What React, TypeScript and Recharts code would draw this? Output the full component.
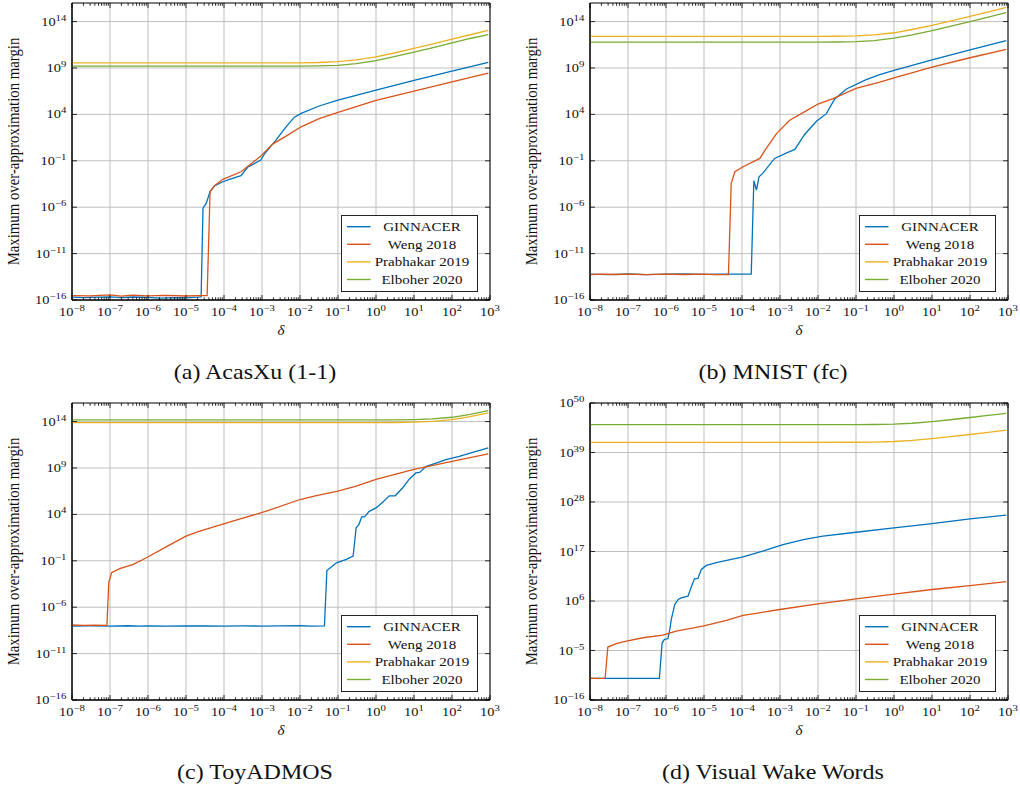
import React from 'react';
import { LineChart, Line, XAxis, YAxis, CartesianGrid, ReferenceArea, Legend } from 'recharts';

const FONT = '"Liberation Serif", "Times New Roman", serif';
const TEXT = '#111';
const PLOT_W = 418;
const PLOT_H = 297;
const TOP_PAD = 12;

// ---------- axes ----------
const xMajorTicks = [1e-8, 1e-7, 1e-6, 1e-5, 1e-4, 1e-3, 1e-2, 1e-1, 1, 10, 100, 1000];
const xTickLabels = ['−8', '−7', '−6', '−5', '−4', '−3', '−2', '−1', '0', '1', '2', '3'];
const xMinorTicks: number[] = [];
for (let e = -8; e < 3; e++) for (let m = 2; m <= 9; m++) xMinorTicks.push(parseFloat(`${m}e${e}`));
const xAllTicks = [...xMajorTicks, ...xMinorTicks].sort((a, b) => a - b);

const yTicksStd = [1e-16, 1e-11, 1e-6, 1e-1, 1e4, 1e9, 1e14];
const yLabelsStd = ['−16', '−11', '−6', '−1', '4', '9', '14'];
const yTicksVww = [1e-16, 1e-5, 1e6, 1e17, 1e28, 1e39, 1e50];
const yLabelsVww = ['−16', '−5', '6', '17', '28', '39', '50'];

// ---------- series ----------
const seriesNames = ['GINNACER', 'Weng 2018', 'Prabhakar 2019', 'Elboher 2020'];
const seriesColors = ['#0072BD', '#D95319', '#EDB120', '#77AC30'];

// (a) AcasXu (1-1)
const acasDeltaG = [1e-8, 2e-8, 5e-8, 1e-7, 2e-7, 4e-7, 1e-6, 2e-6, 5e-6, 1e-5, 2e-5, 2.5e-5, 2.8e-5, 3.4e-5, 4.3e-5, 5.6e-5, 9.3e-5, 1.4e-4, 2.8e-4, 4.2e-4, 9.3e-4, 1.15e-3, 2.3e-3, 4.3e-3, 7e-3, 1.07e-2, 3.2e-2, 1e-1, 1, 10, 100, 900];
const acasMarginG = [2e-16, 1.8e-16, 2e-16, 2.2e-16, 1.8e-16, 2.1e-16, 1.9e-16, 1.6e-16, 1.8e-16, 1.7e-16, 2e-16, 2.2e-16, 8e-7, 2.5e-6, 4.7e-5, 1.9e-4, 5.5e-4, 1e-3, 2.5e-3, 2e-2, 1.2e-1, 5.2e-1, 16, 460, 4.7e3, 1.26e4, 8e4, 3.5e5, 4e6, 4.5e7, 4.5e8, 4e9];
const acasDeltaW = [1e-8, 3e-8, 1e-7, 2e-7, 4e-7, 1e-6, 3e-6, 1e-5, 2e-5, 3.6e-5, 4.3e-5, 5.6e-5, 9.3e-5, 2.8e-4, 4.7e-4, 9.3e-4, 1.9e-3, 4.3e-3, 1.07e-2, 3.2e-2, 1e-1, 1, 10, 100, 900];
const acasMarginW = [3e-16, 2.8e-16, 3.5e-16, 2.6e-16, 3.4e-16, 2.8e-16, 3.2e-16, 2.7e-16, 3e-16, 3e-16, 4.7e-5, 2e-4, 1e-3, 6.6e-3, 3.5e-2, 3.2e-1, 6.3, 45, 460, 3.5e3, 1.6e4, 3.2e5, 3.2e6, 3.2e7, 2.8e8];
const acasDeltaPE = [1e-8, 1e-2, 3e-2, 1e-1, 3e-1, 1, 3, 10, 30, 100, 300, 900];
const acasMarginP = [3.6e9, 3.6e9, 3.9e9, 4.9e9, 7.4e9, 1.6e10, 4.1e10, 1.3e11, 3.8e11, 1.26e12, 3.8e12, 1.1e13];
const acasMarginE = [1.6e9, 1.6e9, 1.7e9, 1.9e9, 3e9, 6.3e9, 1.7e10, 5e10, 1.5e11, 5e11, 1.5e12, 4e12];

// (b) MNIST (fc)
const mnistDeltaG = [1e-8, 3e-8, 1e-7, 3e-7, 1e-6, 3e-6, 1e-5, 3e-5, 1e-4, 1.75e-4, 2.05e-4, 2.4e-4, 2.8e-4, 3.5e-4, 7.2e-4, 1.5e-3, 2.45e-3, 4.5e-3, 9.1e-3, 1.66e-2, 2.75e-2, 5.6e-2, 1.86e-1, 4.2e-1, 1, 10, 100, 900];
const mnistMarginG = [6e-14, 5.5e-14, 6.3e-14, 5.5e-14, 6e-14, 6.3e-14, 5.8e-14, 6e-14, 6e-14, 6e-14, 7e-4, 7e-5, 1.9e-3, 4.4e-3, 1.8e-1, 7.2e-1, 1.66, 72, 1.8e3, 1.2e4, 4.6e5, 5.5e6, 5.5e7, 1.9e8, 5.4e8, 7.6e9, 9e10, 9e11];
const mnistDeltaW = [1e-8, 2e-8, 5e-8, 1e-7, 3e-7, 1e-6, 3e-6, 1e-5, 2e-5, 4.4e-5, 5.2e-5, 6.5e-5, 1.07e-4, 2.95e-4, 4e-4, 8.1e-4, 1.8e-3, 5e-3, 1e-2, 2.5e-2, 1e-1, 4.2e-1, 1, 10, 100, 900];
const mnistMarginW = [5.5e-14, 6e-14, 5.6e-14, 6e-14, 5.3e-14, 6e-14, 5.6e-14, 6e-14, 5.5e-14, 5.6e-14, 3.7e-4, 6.6e-3, 2.3e-2, 1.8e-1, 1.35, 85, 2.3e3, 2.5e4, 1.3e5, 5e5, 6.3e6, 3e7, 8.7e7, 1.26e9, 1.26e10, 1e11];
const mnistDeltaPE = [1e-8, 1e-2, 3e-2, 1e-1, 3e-1, 1, 3, 10, 30, 100, 300, 900];
const mnistMarginP = [2.5e12, 2.5e12, 2.6e12, 2.9e12, 3.6e12, 6.2e12, 1.4e13, 3.9e13, 1.1e14, 3.7e14, 1.1e15, 3.4e15];
const mnistMarginE = [6e11, 6e11, 6.3e11, 7e11, 9e11, 1.6e12, 3.6e12, 1.06e13, 3.1e13, 1e14, 3e14, 9e14];

// (c) ToyADMOS
const toyDeltaG = [1e-8, 3e-8, 1e-7, 3e-7, 6e-7, 1e-6, 3e-6, 1e-5, 3e-5, 1e-4, 3e-4, 1e-3, 3e-3, 1e-2, 2e-2, 4.4e-2, 5.1e-2, 9.1e-2, 1.66e-1, 2.5e-1, 3e-1, 3.55e-1, 4.2e-1, 5e-1, 6.6e-1, 1, 1.5, 2.24, 3.2, 5, 7.6, 11.2, 14, 21, 38, 69, 155, 350, 900];
const toyMarginG = [9e-9, 9.5e-9, 9.2e-9, 1e-8, 9e-9, 9.5e-9, 9e-9, 9.4e-9, 9.8e-9, 9.2e-9, 9.5e-9, 9.3e-9, 9.6e-9, 1e-8, 9e-9, 9.5e-9, 9e-3, 6e-2, 1.4e-1, 3.2e-1, 3.5e2, 8e2, 5.4e3, 5.4e3, 2.1e4, 5e4, 2e5, 1e6, 1e6, 7e6, 6.6e7, 2.9e8, 3.3e8, 1.5e9, 3.4e9, 8e9, 1.8e10, 4.8e10, 1.5e11];
const toyDeltaW = [1e-8, 2e-8, 4e-8, 8.3e-8, 9.3e-8, 1.1e-7, 1.8e-7, 4.1e-7, 9.1e-7, 3e-6, 1e-5, 2.3e-5, 1.7e-4, 1.3e-3, 1e-2, 2.7e-2, 1e-1, 3e-1, 1, 10, 100, 900];
const toyMarginW = [1.2e-8, 1.1e-8, 1.15e-8, 1.1e-8, 5e-4, 5.1e-3, 1.4e-2, 4.1e-2, 2.1e-1, 3.2, 45, 155, 1.9e3, 2.2e4, 4e5, 1.07e6, 3.2e6, 1.1e7, 6e7, 7e8, 5e9, 3.3e10];
const toyDeltaPE = [1e-8, 1, 3, 10, 30, 100, 300, 900];
const toyMarginP = [7.8e13, 7.8e13, 7.9e13, 8.7e13, 1.04e14, 1.6e14, 3.4e14, 8.5e14];
const toyMarginE = [1.5e14, 1.5e14, 1.5e14, 1.65e14, 1.95e14, 2.9e14, 5.9e14, 1.5e15];

// (d) Visual Wake Words
const vwwDeltaG = [1e-8, 3e-8, 1e-7, 3e-7, 6.7e-7, 7.9e-7, 9.1e-7, 1.12e-6, 1.26e-6, 1.38e-6, 1.7e-6, 2.1e-6, 2.5e-6, 3.8e-6, 4.7e-6, 5.6e-6, 6.9e-6, 8.5e-6, 1.15e-5, 2.1e-5, 1.07e-4, 3.5e-4, 1.2e-3, 4.1e-3, 1.35e-2, 1e-1, 1, 10, 100, 900];
const vwwMarginG = [6.5e-12, 6.3e-12, 6.5e-12, 6.2e-12, 6.5e-12, 5.2e-4, 2.9e-3, 4e-3, 4.8e-1, 79, 1.7e5, 2.2e6, 5e6, 1.2e7, 2e9, 8.3e10, 1e11, 1e13, 8e13, 3.2e14, 6.3e15, 1.15e17, 3.5e18, 4.5e19, 2.5e20, 1.9e21, 1.7e22, 1.6e23, 1.7e24, 1.26e25];
const vwwDeltaW = [1e-8, 1.5e-8, 2.5e-8, 2.95e-8, 4.9e-8, 9.1e-8, 2.5e-7, 8.3e-7, 1.86e-6, 9.3e-6, 3.9e-5, 1.07e-4, 9.8e-4, 1e-2, 1e-1, 1, 10, 100, 900];
const vwwMarginW = [6.5e-12, 6.4e-12, 6.5e-12, 5.8e-5, 3.2e-4, 1.26e-3, 6.8e-3, 2.6e-2, 2e-1, 2.6, 48, 6.2e2, 1.3e4, 2.4e5, 3.1e6, 3.3e7, 3.6e8, 2.75e9, 2.1e10];
const vwwDeltaPE = [1e-8, 1e-1, 3e-1, 1, 3, 10, 30, 100, 300, 900];
const vwwMarginP = [1.8e41, 1.9e41, 2.1e41, 2.8e41, 4.8e41, 1.2e42, 3.2e42, 1e43, 3e43, 9e43];
const vwwMarginE = [1.5e45, 1.56e45, 1.67e45, 2.1e45, 3.2e45, 7.3e45, 1.9e46, 6e46, 1.8e47, 5.2e47];

const toPoints = (ds: number[], ms: number[]) => ds.map((d, i) => ({ d, m: ms[i] }));

type PanelDef = {
  left: number;
  top: number;
  caption: string;
  yDomain: [number, number];
  yTicks: number[];
  yLabels: string[];
  series: { d: number; m: number }[][];
};

const panels: PanelDef[] = [
  {
    left: 0, top: 0, caption: '(a) AcasXu (1-1)', yDomain: [1e-16, 1e16], yTicks: yTicksStd, yLabels: yLabelsStd,
    series: [toPoints(acasDeltaG, acasMarginG), toPoints(acasDeltaW, acasMarginW), toPoints(acasDeltaPE, acasMarginP), toPoints(acasDeltaPE, acasMarginE)],
  },
  {
    left: 518, top: 0, caption: '(b) MNIST (fc)', yDomain: [1e-16, 1e16], yTicks: yTicksStd, yLabels: yLabelsStd,
    series: [toPoints(mnistDeltaG, mnistMarginG), toPoints(mnistDeltaW, mnistMarginW), toPoints(mnistDeltaPE, mnistMarginP), toPoints(mnistDeltaPE, mnistMarginE)],
  },
  {
    left: 0, top: 400, caption: '(c) ToyADMOS', yDomain: [1e-16, 1e16], yTicks: yTicksStd, yLabels: yLabelsStd,
    series: [toPoints(toyDeltaG, toyMarginG), toPoints(toyDeltaW, toyMarginW), toPoints(toyDeltaPE, toyMarginP), toPoints(toyDeltaPE, toyMarginE)],
  },
  {
    left: 518, top: 400, caption: '(d) Visual Wake Words', yDomain: [1e-16, 1e50], yTicks: yTicksVww, yLabels: yLabelsVww,
    series: [toPoints(vwwDeltaG, vwwMarginG), toPoints(vwwDeltaW, vwwMarginW), toPoints(vwwDeltaPE, vwwMarginP), toPoints(vwwDeltaPE, vwwMarginE)],
  },
];

// ---------- tick renderers ----------
const renderXTick = (props: any) => {
  const { x, y, payload } = props;
  const idx = xMajorTicks.indexOf(payload.value);
  const major = idx >= 0;
  const len = major ? 5 : 2.8;
  return (
    <g>
      <line x1={x} x2={x} y1={y} y2={y - len} stroke="#000" strokeWidth={0.8} />
      <line x1={x} x2={x} y1={y - PLOT_H} y2={y - PLOT_H + len} stroke="#000" strokeWidth={0.8} />
      {major && (
        <g transform={`translate(${x},${y + 16}) scale(1.2,1)`}>
          <text x={0} y={0} textAnchor="middle" fontFamily={FONT} fontSize={12} fill={TEXT}>
            10
            <tspan dy={-5} fontSize={9}>
              {xTickLabels[idx]}
            </tspan>
          </text>
        </g>
      )}
    </g>
  );
};

const makeYTick = (ticks: number[], labels: string[]) => (props: any) => {
  const { x, y, payload } = props;
  const idx = ticks.indexOf(payload.value);
  return (
    <g>
      <line x1={x} x2={x + 5} y1={y} y2={y} stroke="#000" strokeWidth={0.8} />
      <line x1={x + PLOT_W} x2={x + PLOT_W - 5} y1={y} y2={y} stroke="#000" strokeWidth={0.8} />
      <g transform={`translate(${x - 5.6},${y + 4}) scale(1.2,1)`}>
        <text x={0} y={0} textAnchor="end" fontFamily={FONT} fontSize={12} fill={TEXT}>
          10
          <tspan dy={-5} fontSize={9}>
            {idx >= 0 ? labels[idx] : ''}
          </tspan>
        </text>
      </g>
    </g>
  );
};

const LegendBox = () => (
  <svg width={138} height={78} style={{ display: 'block' }}>
    <rect x={0.5} y={0.5} width={136} height={76} fill="#fff" stroke="#222" strokeWidth={1} />
    {seriesNames.map((name, i) => {
      const cy = 11.7 + i * 17.6;
      return (
        <g key={name}>
          <line x1={6} x2={29.5} y1={cy} y2={cy} stroke={seriesColors[i]} strokeWidth={1.4} />
          <g transform={`translate(81,${cy + 4.3}) scale(1.2,1)`}>
            <text x={0} y={0} textAnchor="middle" fontFamily={FONT} fontSize={12.5} fill={TEXT}>
              {name}
            </text>
          </g>
        </g>
      );
    })}
  </svg>
);

const Panel = ({ p }: { p: PanelDef }) => (
  <LineChart width={500} height={340 + TOP_PAD} margin={{ top: 3 + TOP_PAD, right: 10, bottom: 0, left: 0 }}>
    <CartesianGrid
      stroke="#b8b8b8"
      strokeWidth={0.9}
      verticalValues={xMajorTicks}
      horizontalValues={p.yTicks}
    />
    <XAxis
      dataKey="d"
      type="number"
      scale="log"
      domain={[1e-8, 1e3]}
      allowDataOverflow
      ticks={xAllTicks}
      interval={0}
      tickLine={false}
      tickSize={0}
      tickMargin={0}
      height={40}
      axisLine={{ stroke: '#000' }}
      tick={renderXTick}
    />
    <YAxis
      type="number"
      scale="log"
      domain={p.yDomain}
      allowDataOverflow
      ticks={p.yTicks}
      interval={0}
      width={72}
      tickLine={false}
      tickSize={0}
      tickMargin={0}
      axisLine={{ stroke: '#000' }}
      tick={makeYTick(p.yTicks, p.yLabels)}
    />
    <ReferenceArea
      x1={1e-8}
      x2={1e3}
      y1={p.yDomain[0]}
      y2={p.yDomain[1]}
      fill="none"
      fillOpacity={0}
      stroke="#000"
      strokeWidth={1}
      ifOverflow="visible"
    />
    {p.series.map((data, i) => (
      <Line
        key={seriesNames[i]}
        name={seriesNames[i]}
        data={data}
        dataKey="m"
        type="linear"
        stroke={seriesColors[i]}
        strokeWidth={1.3}
        dot={false}
        activeDot={false}
        isAnimationActive={false}
      />
    ))}
    <Legend
      layout="vertical"
      align="center"
      verticalAlign="middle"
      content={LegendBox}
      wrapperStyle={{ left: 341, top: 215 + TOP_PAD, width: 138, height: 78 }}
    />
  </LineChart>
);

export default function App() {
  return (
    <div style={{ position: 'absolute', left: 0, top: 0, width: 1020, height: 787, background: '#fff', overflow: 'hidden' }}>
      {panels.map((p) => (
        <div key={p.caption} style={{ position: 'absolute', left: p.left, top: p.top - TOP_PAD, width: 500, height: 340 + TOP_PAD }}>
          <Panel p={p} />
        </div>
      ))}
      <svg width={1020} height={787} style={{ position: 'absolute', left: 0, top: 0, pointerEvents: 'none' }}>
        {panels.map((p) => (
          <g key={p.caption}>
            <g transform={`translate(${p.left + 19},${p.top + 151.5}) rotate(-90) scale(1,1.2)`}>
              <text x={0} y={0} textAnchor="middle" fontFamily={FONT} fontSize={14.8} fill={TEXT}>
                Maximum over-approximation margin
              </text>
            </g>
            <text x={p.left + 281} y={p.top + 335} textAnchor="middle" fontFamily={FONT} fontStyle="italic" fontSize={15} fill={TEXT}>
              δ
            </text>
            <g transform={`translate(${p.left + 255},${p.top + 379}) scale(1.2,1)`}>
              <text x={0} y={0} textAnchor="middle" fontFamily={FONT} fontSize={20} fill={TEXT}>
                {p.caption}
              </text>
            </g>
          </g>
        ))}
      </svg>
    </div>
  );
}
